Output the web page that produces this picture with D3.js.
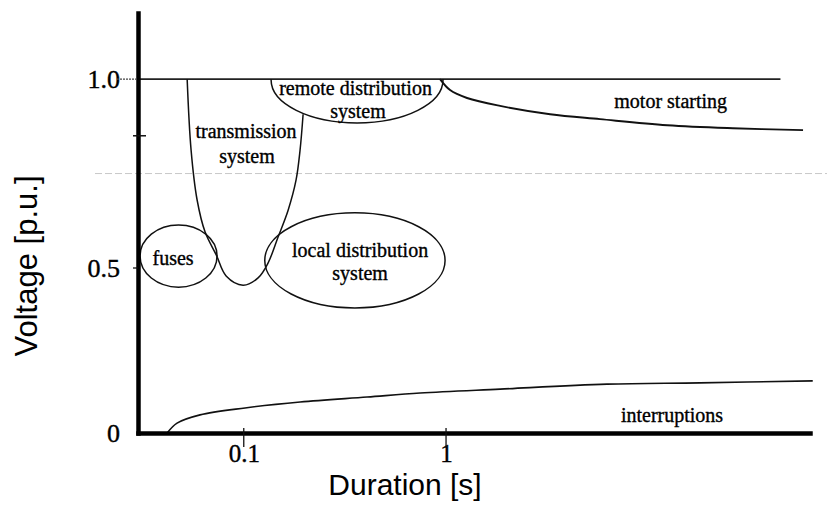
<!DOCTYPE html>
<html><head><meta charset="utf-8">
<script src="https://cdn.jsdelivr.net/npm/d3@7"></script>
<style>body{margin:0;background:#fff}svg{display:block}</style>
</head><body><svg id="chart" width="827" height="508"></svg>
<script>
// ---- data ----
const xTickValues = [0.1, 1];
const xTickLabels = ["0.1", "1"];
const yTickValues = [0, 0.5, 1.0];
const yTickLabels = ["0", "0.5", "1.0"];
const yMinorTicks = [0.85];
const gridVoltage = 0.75;
const nominalVoltage = 1.0;
const nominalEnd = 45;

const transmissionT = [0.0525, 0.0549, 0.0588, 0.0644, 0.0732, 0.0818, 0.0992, 0.1177, 0.1318, 0.1478, 0.1657, 0.1814, 0.1898, 0.1965];
const transmissionV = [1.0, 0.812, 0.680, 0.595, 0.534, 0.476, 0.448, 0.470, 0.513, 0.582, 0.653, 0.733, 0.812, 0.907];

const motorT = [0.934, 1.047, 1.27, 1.85, 3.27, 5.77, 12.4, 26.2, 58.2];
const motorV = [1.0, 0.971, 0.950, 0.929, 0.907, 0.894, 0.878, 0.870, 0.865];

const interruptT = [0.0418, 0.0468, 0.0608, 0.1015, 0.190, 0.407, 0.744, 1.85, 6.25, 18.0, 65.0];
const interruptV = [0.0, 0.030, 0.055, 0.076, 0.094, 0.109, 0.121, 0.133, 0.148, 0.152, 0.158];

const regionNames = ["fuses", "local distribution system", "remote distribution system"];
const regionTMin = [0.0307, 0.127, 0.1365];
const regionTMax = [0.0738, 0.989, 0.966];
const regionVMin = [0.442, 0.379, 0.884];
const regionVMax = [0.614, 0.646, 1.111];

const labelText = ["fuses", "transmission", "system", "remote distribution", "system", "local distribution", "system", "motor starting", "interruptions"];
const labelT = [0.0447, 0.1026, 0.1037, 0.357, 0.367, 0.376, 0.376, 12.9, 13.1];
const labelV = [0.508, 0.844, 0.778, 0.958, 0.897, 0.529, 0.464, 0.923, 0.0333];

// ---- chart ----
const svg = d3.select("#chart");
const x = d3.scaleLog().domain([0.03, 63]).range([138, 810]);
const y = d3.scaleLinear().domain([0, 0.5, 1.175]).range([433, 268, 13]);
const serif = "'Liberation Serif','Times New Roman',serif";
const sans = "'Liberation Sans',Arial,sans-serif";

// faint scan gridline
svg.append("line")
  .attr("x1", 95).attr("x2", 827)
  .attr("y1", y(gridVoltage)).attr("y2", y(gridVoltage))
  .attr("stroke", "#c8c8c8").attr("stroke-width", 1)
  .attr("stroke-dasharray", "7,3");

// nominal voltage line
svg.append("line")
  .attr("x1", x.range()[0]).attr("x2", x(nominalEnd))
  .attr("y1", y(nominalVoltage)).attr("y2", y(nominalVoltage))
  .attr("stroke", "#222").attr("stroke-width", 1.6);

// regions (ellipses)
svg.append("defs").append("clipPath").attr("id", "below1")
  .append("rect").attr("x", 0).attr("y", y(nominalVoltage)).attr("width", 827).attr("height", 508);

regionNames.forEach((n, i) => {
  const x0 = x(regionTMin[i]), x1 = x(regionTMax[i]);
  const y0 = y(regionVMax[i]), y1 = y(regionVMin[i]);
  const e = svg.append("ellipse")
    .attr("cx", (x0 + x1) / 2).attr("cy", (y0 + y1) / 2)
    .attr("rx", (x1 - x0) / 2).attr("ry", (y1 - y0) / 2)
    .attr("fill", "none").attr("stroke", "#111").attr("stroke-width", 1.5);
  if (regionVMax[i] > nominalVoltage) e.attr("clip-path", "url(#below1)");
});

const line = d3.line().x(d => x(d[0])).y(d => y(d[1])).curve(d3.curveCatmullRom.alpha(0.5));
function drawCurve(T, V, w) {
  svg.append("path").datum(T.map((t, i) => [t, V[i]]))
    .attr("d", line).attr("fill", "none").attr("stroke", "#111").attr("stroke-width", w);
}
drawCurve(transmissionT, transmissionV, 1.5);
drawCurve(motorT, motorV, 1.9);
drawCurve(interruptT, interruptV, 1.6);

// axes
const yAxis = d3.axisLeft(y).tickValues(yTickValues)
  .tickFormat((d, i) => yTickLabels[i]).tickSize(0).tickPadding(18).tickSizeOuter(0);
const gy = svg.append("g").attr("transform", `translate(${x.range()[0]},0)`).call(yAxis);
gy.select(".domain").attr("stroke", "#000").attr("stroke-width", 4.5).attr("stroke-linecap", "square");
gy.selectAll("text").attr("font-family", serif).attr("font-size", 26).attr("fill", "#000")
  .attr("stroke", "#000").attr("stroke-width", 0.4);

const xAxis = d3.axisBottom(x).tickValues(xTickValues)
  .tickFormat((d, i) => xTickLabels[i]).tickSize(0).tickPadding(11).tickSizeOuter(0);
const gx = svg.append("g").attr("transform", `translate(0,${y(0)})`).call(xAxis);
gx.select(".domain").attr("stroke", "#000").attr("stroke-width", 4.5).attr("stroke-linecap", "square");
gx.selectAll("text").attr("font-family", serif).attr("font-size", 25).attr("fill", "#000")
  .attr("stroke", "#000").attr("stroke-width", 0.4);

// tick marks
svg.selectAll(".xtick").data(xTickValues).enter().append("line")
  .attr("x1", d => x(d)).attr("x2", d => x(d))
  .attr("y1", y(0) - 5).attr("y2", y(0) + 14)
  .attr("stroke", "#111").attr("stroke-width", 1.3);
svg.append("line").attr("x1", x.range()[0] - 21).attr("x2", x.range()[0])
  .attr("y1", y(1)).attr("y2", y(1)).attr("stroke", "#444").attr("stroke-width", 1.2)
  .attr("stroke-dasharray", "2,1");
svg.append("line").attr("x1", x.range()[0] - 5).attr("x2", x.range()[0])
  .attr("y1", y(0.5)).attr("y2", y(0.5)).attr("stroke", "#111").attr("stroke-width", 1.3);
svg.selectAll(".ytick").data(yMinorTicks).enter().append("line")
  .attr("x1", x.range()[0] - 5).attr("x2", x.range()[0] + 8)
  .attr("y1", d => y(d)).attr("y2", d => y(d))
  .attr("stroke", "#111").attr("stroke-width", 1.5);

// region labels
labelText.forEach((t, i) => {
  svg.append("text").attr("x", x(labelT[i])).attr("y", y(labelV[i]))
    .attr("text-anchor", "middle").attr("font-family", serif).attr("font-size", 20)
    .attr("fill", "#000").attr("stroke", "#000").attr("stroke-width", 0.35).text(t);
});

// axis titles
svg.append("text").attr("transform", "translate(37,266) rotate(-90)")
  .attr("text-anchor", "middle").attr("font-family", sans).attr("font-size", 31)
  .attr("fill", "#000").text("Voltage [p.u.]");
svg.append("text").attr("x", 405).attr("y", 495)
  .attr("text-anchor", "middle").attr("font-family", sans).attr("font-size", 30)
  .attr("fill", "#000").text("Duration [s]");
</script></body></html>
